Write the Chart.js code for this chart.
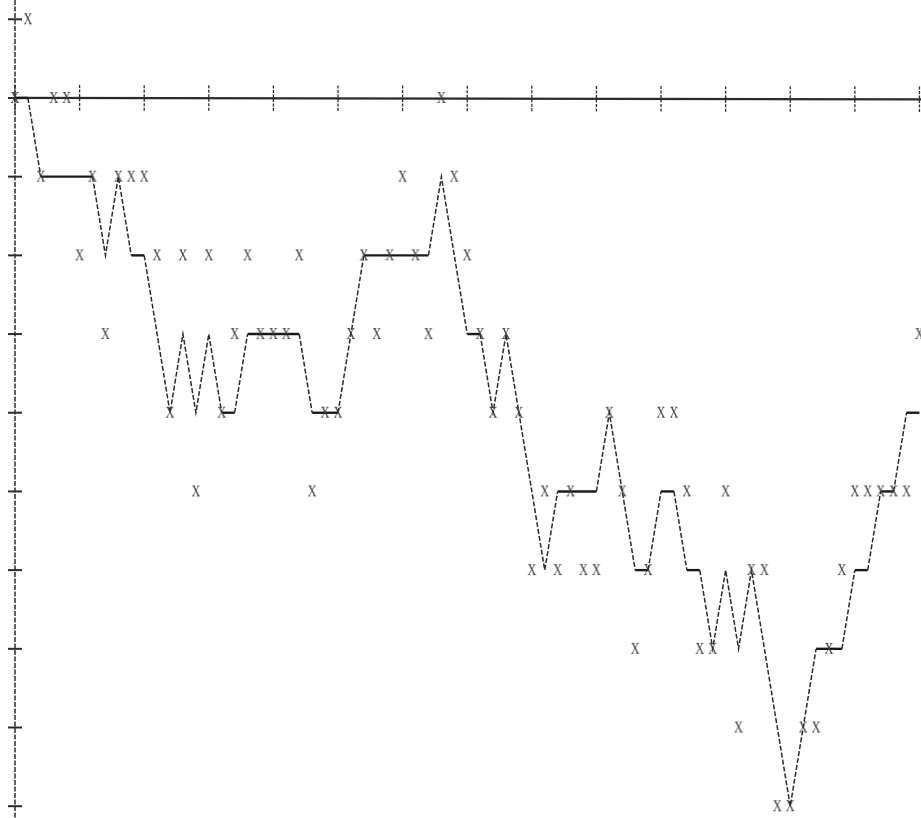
<!DOCTYPE html>
<html>
<head>
<meta charset="utf-8">
<script src="https://cdn.jsdelivr.net/npm/chart.js@4/dist/chart.umd.min.js"></script>
<style>
  html, body { margin: 0; padding: 0; background: #fff; }
  #wrap { width: 921px; height: 818px; }
</style>
</head>
<body>
<div id="wrap"><canvas id="c" width="921" height="818"></canvas></div>
<script>
// Time index of each observation
const index = [0,1,2,3,4,5,6,7,8,9,10,11,12,13,14,15,16,17,18,19,20,
  21,22,23,24,25,26,27,28,29,30,31,32,33,34,35,36,37,38,39,40,
  41,42,43,44,45,46,47,48,49,50,51,52,53,54,55,56,57,58,59,60,
  61,62,63,64,65,66,67,68,69,70];

// Smoothed level (connected line)
const smoothed = [0,0,-1,-1,-1,-1,-1,-2,-1,-2,-2,
  -3,-4,-3,-4,-3,-4,-4,-3,-3,-3,
  -3,-3,-4,-4,-4,-3,-2,-2,-2,-2,
  -2,-2,-1,-2,-3,-3,-4,-3,-4,-5,
  -6,-5,-5,-5,-5,-4,-5,-6,-6,-5,
  -5,-6,-6,-7,-6,-7,-6,-7,-8,-9,
  -8,-7,-7,-7,-6,-6,-5,-5,-4,-4];

// Raw observations (printed as X)
const observed = [0,1,-1,0,0,-2,-1,-3,-1,-1,-1,
  -2,-4,-2,-5,-2,-4,-3,-2,-3,-3,
  -3,-2,-5,-4,-4,-3,-2,-3,-2,-1,
  -2,-3,0,-1,-2,-3,-4,-3,-4,-6,
  -5,-6,-5,-6,-6,-4,-5,-7,-6,-4,
  -4,-5,-7,-7,-5,-8,-6,-6,-9,-9,
  -8,-8,-7,-6,-5,-5,-5,-5,-5,-3];

// Tick positions along the two axes
const xTickValues = [0,5,10,15,20,25,30,35,40,45,50,55,60,65,70];
const yTickValues = [1,0,-1,-2,-3,-4,-5,-6,-7,-8,-9];

// Printed "X" glyph used as the point marker (narrow, typewriter-like)
function makeXGlyph() {
  const g = document.createElement('canvas');
  g.width = 14; g.height = 18;
  const c = g.getContext('2d');
  c.fillStyle = '#3a3a3a';
  c.translate(7, 9.5);
  c.scale(0.82, 1.05);
  c.font = '15px "Liberation Serif", "DejaVu Serif", serif';
  c.textAlign = 'center';
  c.textBaseline = 'middle';
  c.fillText('X', 0, 0);
  return g;
}
const xGlyph = makeXGlyph();

// Draws the vertical axis, the zero line and their tick marks
const axesPlugin = {
  id: 'plotAxes',
  beforeDatasetsDraw(chart) {
    const ctx = chart.ctx;
    const xs = chart.scales.x, ys = chart.scales.y;
    const x0 = xs.getPixelForValue(0);
    const y0 = ys.getPixelForValue(0);
    ctx.save();
    ctx.strokeStyle = '#2a2a2a';

    // vertical axis
    ctx.lineWidth = 1.5;
    ctx.setLineDash([5, 1.5]);
    ctx.beginPath();
    ctx.moveTo(x0, 0);
    ctx.lineTo(x0, chart.height);
    ctx.stroke();
    ctx.setLineDash([]);

    // vertical-axis ticks
    ctx.lineWidth = 2;
    yTickValues.forEach(v => {
      const py = ys.getPixelForValue(v);
      ctx.beginPath();
      ctx.moveTo(x0 - 7, py);
      ctx.lineTo(x0 + 7, py);
      ctx.stroke();
    });

    // zero line
    ctx.lineWidth = 2.2;
    ctx.beginPath();
    ctx.moveTo(x0, y0);
    ctx.lineTo(chart.width, y0 + 1.5);
    ctx.stroke();

    // ticks across the zero line
    ctx.lineWidth = 1.3;
    ctx.setLineDash([3, 1.5]);
    xTickValues.forEach(v => {
      const px = xs.getPixelForValue(v);
      const py = y0 + (px - x0) / (chart.width - x0) * 1.5;
      ctx.beginPath();
      ctx.moveTo(px, py - 13);
      ctx.lineTo(px, py + 13);
      ctx.stroke();
    });
    ctx.restore();
  }
};

const sloped = c => c.p0.parsed.y !== c.p1.parsed.y;

new Chart(document.getElementById('c'), {
  type: 'line',
  data: {
    datasets: [
      {
        label: 'observed',
        data: index.map((t, i) => ({ x: t, y: observed[i] })),
        showLine: false,
        pointStyle: xGlyph,
        pointRadius: 6,
        order: 1
      },
      {
        label: 'smoothed',
        data: index.map((t, i) => ({ x: t, y: smoothed[i] })),
        borderColor: '#222',
        borderWidth: 2,
        pointRadius: 0,
        tension: 0,
        fill: false,
        segment: {
          borderDash: c => sloped(c) ? [5, 2] : [],
          borderWidth: c => sloped(c) ? 1.5 : 2.4,
          borderColor: c => sloped(c) ? '#2a2a2a' : '#1a1a1a'
        },
        order: 2
      }
    ]
  },
  options: {
    responsive: false,
    animation: false,
    devicePixelRatio: 1,
    layout: { padding: 0, autoPadding: false },
    plugins: {
      legend: { display: false },
      tooltip: { enabled: false }
    },
    scales: {
      x: { type: 'linear', min: -1.16, max: 70.12, display: false },
      y: { type: 'linear', min: -9.15, max: 1.245, display: false }
    }
  },
  plugins: [axesPlugin]
});
</script>
</body>
</html>
